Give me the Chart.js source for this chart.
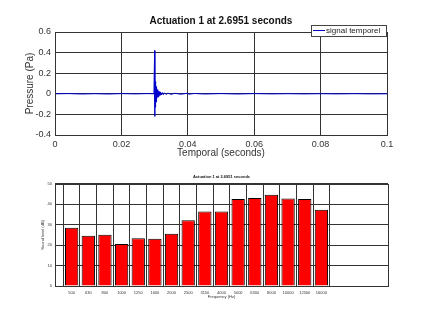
<!DOCTYPE html>
<html>
<head>
<meta charset="utf-8">
<script src="https://cdn.jsdelivr.net/npm/chart.js@4.4.1/dist/chart.umd.min.js"></script>
<style>
  html, body { margin: 0; padding: 0; background: #fff; }
  #top { position: absolute; left: 0; top: 0; width: 429px; height: 165px; }
  #bottom { position: absolute; left: 0; top: 165px; width: 429px; height: 156px; }
</style>
</head>
<body>
<div id="top"><canvas id="signalChart"></canvas></div>
<div id="bottom"><canvas id="spectrumChart"></canvas></div>
<script>
// time signal
const timeSec = [
  0, 0.004, 0.008, 0.012, 0.016, 0.02, 0.024, 0.028, 0.0298,
  0.03, 0.03005, 0.0301, 0.03015, 0.0302, 0.03025, 0.0303, 0.03035, 0.0304, 0.03045,
  0.0305, 0.03055, 0.0306, 0.0307, 0.0308, 0.0309, 0.031, 0.0311, 0.0312, 0.0313,
  0.0314, 0.0316, 0.0318, 0.032, 0.0323, 0.0326, 0.033, 0.0335, 0.034, 0.035,
  0.036, 0.038, 0.04, 0.0402, 0.042, 0.045, 0.05, 0.055, 0.06, 0.065,
  0.07, 0.075, 0.08, 0.085, 0.09, 0.095, 0.1
];
const pressurePa = [
  0, 0.002, -0.002, 0.001, -0.002, 0.002, -0.001, 0.002, 0,
  0.42, -0.22, 0.14, -0.13, 0.12, -0.11, 0.10, -0.09, 0.08, -0.08,
  0.07, -0.06, 0.05, -0.05, 0.04, -0.035, 0.03, -0.03, 0.025, -0.02,
  0.02, -0.015, 0.015, -0.012, 0.012, -0.01, 0.01, -0.008, 0.007, -0.006,
  0.005, -0.004, 0.006, -0.004, 0.003, -0.002, 0.002, -0.002, 0.002, -0.001,
  0.001, -0.001, 0.001, -0.001, 0.001, -0.001, 0
];
const signalTitle = 'Actuation 1 at 2.6951 seconds';
const legendLabel = 'signal temporel';

// third-octave spectrum
const freqLabels = ['500', '630', '800', '1000', '1250', '1600', '2000', '2500',
  '3150', '4000', '5000', '6300', '8000', '10000', '12500', '16000'];
const levelDb = [28.5, 24.6, 25.1, 20.5, 23.4, 23.1, 25.6, 32.2,
  36.5, 36.5, 42.6, 43.0, 44.6, 42.8, 42.6, 37.3];

const gridColor = '#333';
const FONT = 'Liberation Sans, Arial, sans-serif';

// matlab-like box around the plot area
const boxPlugin = {
  id: 'box',
  afterDraw(chart) {
    const a = chart.chartArea, ctx = chart.ctx;
    ctx.save();
    ctx.strokeStyle = gridColor;
    ctx.lineWidth = 1;
    ctx.strokeRect(Math.round(a.left) + 0.5, Math.round(a.top) + 0.5,
      Math.round(a.right - a.left), Math.round(a.bottom - a.top));
    ctx.restore();
  }
};

const legendPlugin = {
  id: 'boxLegend',
  afterDraw(chart) {
    const ctx = chart.ctx;
    ctx.save();
    ctx.fillStyle = '#fff';
    ctx.fillRect(311, 25, 75, 11);
    ctx.strokeStyle = '#444';
    ctx.lineWidth = 1;
    ctx.strokeRect(311.5, 25.5, 75, 11);
    ctx.strokeStyle = '#0000cc';
    ctx.beginPath();
    ctx.moveTo(313, 30.5);
    ctx.lineTo(325, 30.5);
    ctx.stroke();
    ctx.fillStyle = '#222';
    ctx.font = '8px ' + FONT;
    ctx.textBaseline = 'middle';
    ctx.fillText(legendLabel, 326, 31);
    ctx.restore();
  }
};

new Chart(document.getElementById('signalChart'), {
  type: 'line',
  data: {
    datasets: [{
      label: legendLabel,
      data: timeSec.map((t, i) => ({ x: t, y: pressurePa[i] })),
      borderColor: '#0000cc',
      borderWidth: 1,
      pointRadius: 0,
      tension: 0
    }]
  },
  options: {
    responsive: true,
    maintainAspectRatio: false,
    animation: false,
    layout: { padding: { left: 0, right: 42, top: 0, bottom: 0 } },
    plugins: {
      legend: { display: false },
      tooltip: { enabled: false },
      title: {
        display: true, text: signalTitle, fullSize: false, color: '#111',
        font: { family: FONT, size: 10, weight: 'bold' },
        padding: { top: 15, bottom: 5 }
      }
    },
    scales: {
      x: {
        type: 'linear', min: 0, max: 0.1,
        afterFit: s => { s.height = 30; },
        ticks: { stepSize: 0.02, padding: 4, color: '#333', font: { family: FONT, size: 9 },
          callback: v => +v.toFixed(2) },
        grid: { color: gridColor, drawTicks: false },
        border: { color: gridColor },
        title: { display: true, text: 'Temporal (seconds)', color: '#333',
          font: { family: FONT, size: 10 }, padding: { top: 0, bottom: 6 } }
      },
      y: {
        min: -0.4, max: 0.6,
        afterFit: s => { s.width = 55; },
        ticks: { stepSize: 0.2, padding: 4, color: '#333', font: { family: FONT, size: 9 },
          callback: v => +v.toFixed(1) },
        grid: { color: gridColor, drawTicks: false },
        border: { color: gridColor },
        title: { display: true, text: 'Pressure (Pa)', color: '#333',
          font: { family: FONT, size: 10 }, padding: { top: 24, bottom: 0 } }
      }
    }
  },
  plugins: [boxPlugin, legendPlugin]
});

new Chart(document.getElementById('spectrumChart'), {
  type: 'bar',
  data: {
    datasets: [{
      data: levelDb.map((v, i) => ({ x: i + 1, y: v })),
      backgroundColor: '#ff0000',
      borderColor: '#000',
      borderWidth: 1,
      barPercentage: 0.8,
      categoryPercentage: 1
    }]
  },
  options: {
    responsive: true,
    maintainAspectRatio: false,
    animation: false,
    layout: { padding: { left: 0, right: 41, top: 0, bottom: 20 } },
    plugins: {
      legend: { display: false },
      tooltip: { enabled: false },
      title: {
        display: true, text: signalTitle, fullSize: false, color: '#111',
        font: { family: FONT, size: 4, weight: 'bold' },
        padding: { top: 9, bottom: 5 }
      }
    },
    scales: {
      x: {
        type: 'linear', min: 0, max: 20, offset: false,
        afterBuildTicks: s => { s.ticks = freqLabels.map((f, i) => ({ value: i + 1 })); },
        afterFit: s => { s.height = 15; },
        ticks: { padding: 4, color: '#333', font: { family: FONT, size: 4 },
          autoSkip: false, maxRotation: 0,
          callback: v => freqLabels[v - 1] },
        grid: { color: gridColor, drawTicks: false },
        border: { color: gridColor },
        title: { display: true, text: 'Frequency (Hz)', color: '#333',
          font: { family: FONT, size: 4 }, padding: { top: 0, bottom: 2 } }
      },
      y: {
        min: 0, max: 50,
        afterFit: s => { s.width = 55; },
        ticks: { stepSize: 10, padding: 3, color: '#333', font: { family: FONT, size: 4 } },
        grid: { color: gridColor, drawTicks: false },
        border: { color: gridColor },
        title: { display: true, text: 'Sound level (dB)', color: '#333',
          font: { family: FONT, size: 4 }, padding: { top: 40, bottom: 0 } }
      }
    }
  },
  plugins: [boxPlugin]
});
</script>
</body>
</html>
